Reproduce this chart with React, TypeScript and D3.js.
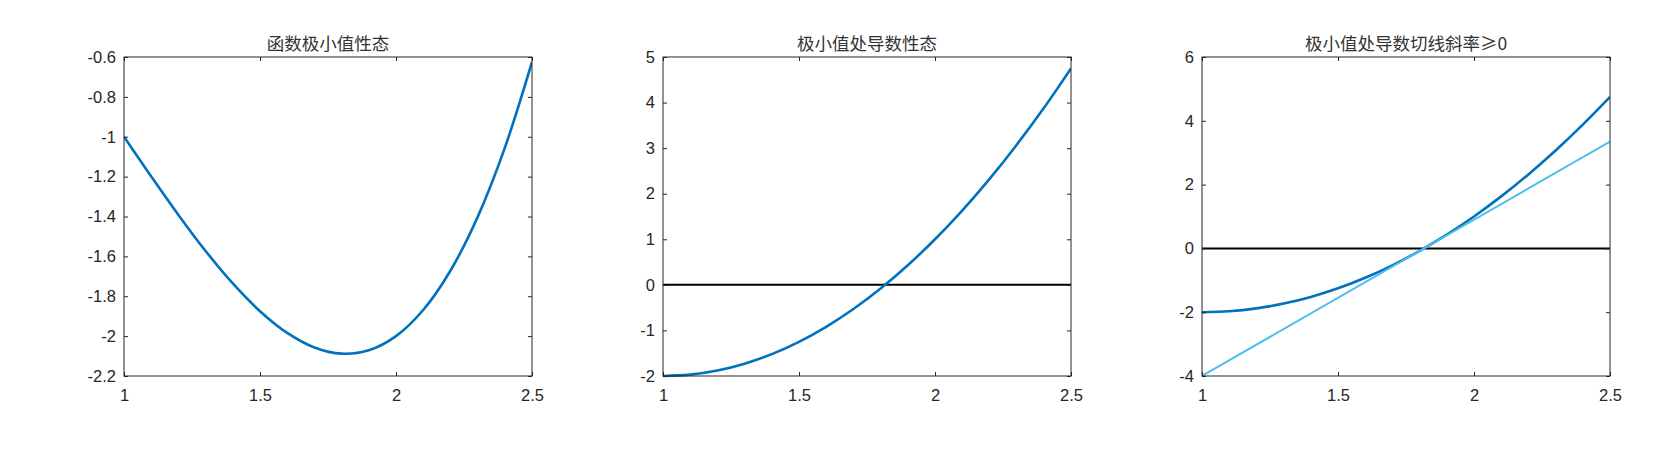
import { useEffect, useRef } from 'react'
import * as d3 from 'd3'

// sample points
const xs = [1.0, 1.1, 1.2, 1.3, 1.4, 1.5, 1.6, 1.7, 1.8, 1.9, 2.0, 2.1, 2.2, 2.3, 2.4, 2.5]
const fVals = [-1.0, -1.199, -1.392, -1.573, -1.736, -1.875, -1.984, -2.057, -2.088, -2.071, -2.0, -1.869, -1.672, -1.403, -1.056, -0.625]
const dVals = [-2.0, -1.97, -1.88, -1.73, -1.52, -1.25, -0.92, -0.53, -0.08, 0.43, 1.0, 1.63, 2.32, 3.07, 3.88, 4.75]
const tangentX = [1.0, 2.5]
const tangentY = [-4.0, 3.35]
const zeroX = [1.0, 2.5]
const zeroY = [0, 0]

const xTicks = [1, 1.5, 2, 2.5]
const titles = ['函数极小值性态', '极小值处导数性态', '极小值处导数切线斜率≥0']
const yDomains: [number, number][] = [[-2.2, -0.6], [-2, 5], [-4, 6]]
const yTickLists = [
  [-2.2, -2, -1.8, -1.6, -1.4, -1.2, -1, -0.8, -0.6],
  [-2, -1, 0, 1, 2, 3, 4, 5],
  [-4, -2, 0, 2, 4, 6],
]

const W = 1666
const H = 451
const panelLeft = [124, 663, 1202]
const panelW = 408
const top = 57
const bottom = 376
const textColor = '#262626'
const font = '"Liberation Sans", Arial, sans-serif'

export default function App() {
  const ref = useRef<SVGSVGElement>(null)

  useEffect(() => {
    const svg = d3.select(ref.current)
    svg.selectAll('*').remove()

    titles.forEach((title, i) => {
      const x = d3.scaleLinear().domain([1, 2.5]).range([panelLeft[i], panelLeft[i] + panelW])
      const y = d3.scaleLinear().domain(yDomains[i]).range([bottom, top])
      const g = svg.append('g')

      const line = d3.line<[number, number]>()
        .x(d => x(d[0]))
        .y(d => y(d[1]))

      const smooth = d3.line<[number, number]>()
        .x(d => x(d[0]))
        .y(d => y(d[1]))
        .curve(d3.curveCatmullRom)

      // clip to plot area
      const clipId = `clip${i}`
      g.append('clipPath').attr('id', clipId)
        .append('rect')
        .attr('x', panelLeft[i]).attr('y', top - 2)
        .attr('width', panelW).attr('height', bottom - top + 4)

      const plot = g.append('g').attr('clip-path', `url(#${clipId})`)

      if (i > 0) {
        plot.append('path')
          .datum(zeroX.map((v, k) => [v, zeroY[k]] as [number, number]))
          .attr('d', line)
          .attr('fill', 'none')
          .attr('stroke', '#000')
          .attr('stroke-width', 2)
      }

      const vals = i === 0 ? fVals : dVals
      plot.append('path')
        .datum(xs.map((v, k) => [v, vals[k]] as [number, number]))
        .attr('d', smooth)
        .attr('fill', 'none')
        .attr('stroke', '#0072BD')
        .attr('stroke-width', 2.6)

      if (i === 2) {
        plot.append('path')
          .datum(tangentX.map((v, k) => [v, tangentY[k]] as [number, number]))
          .attr('d', line)
          .attr('fill', 'none')
          .attr('stroke', '#4DBEEE')
          .attr('stroke-width', 2)
      }

      // box
      g.append('rect')
        .attr('x', panelLeft[i]).attr('y', top)
        .attr('width', panelW).attr('height', bottom - top)
        .attr('fill', 'none')
        .attr('stroke', textColor)
        .attr('stroke-width', 1)

      // axes with inward ticks
      const axes = [
        { ax: d3.axisBottom(x).tickValues(xTicks).tickSizeInner(-4).tickSizeOuter(0).tickPadding(13), t: `translate(0,${bottom})`, labels: true },
        { ax: d3.axisTop(x).tickValues(xTicks).tickSizeInner(-4).tickSizeOuter(0), t: `translate(0,${top})`, labels: false },
        { ax: d3.axisLeft(y).tickValues(yTickLists[i]).tickSizeInner(-4).tickSizeOuter(0).tickPadding(8), t: `translate(${panelLeft[i]},0)`, labels: true },
        { ax: d3.axisRight(y).tickValues(yTickLists[i]).tickSizeInner(-4).tickSizeOuter(0), t: `translate(${panelLeft[i] + panelW},0)`, labels: false },
      ]
      axes.forEach(a => {
        const ag = g.append('g').attr('transform', a.t)
          .call(a.ax.tickFormat(d => String(d)) as any)
        ag.select('.domain').remove()
        ag.selectAll('line').attr('stroke', textColor)
        ag.selectAll('text')
          .style('fill', textColor)
          .style('font-family', font)
          .style('font-size', '16.5px')
        if (!a.labels) ag.selectAll('text').remove()
      })

      svg.append('text')
        .attr('x', panelLeft[i] + panelW / 2)
        .attr('y', 50)
        .attr('text-anchor', 'middle')
        .style('fill', '#333')
        .style('font-family', '"Noto Sans CJK SC", sans-serif')
        .style('font-size', '17.5px')
        .text(title)
    })
  }, [])

  return (
    <svg ref={ref} width={W} height={H}
      style={{ position: 'absolute', left: 0, top: 0, background: '#fff' }} />
  )
}
